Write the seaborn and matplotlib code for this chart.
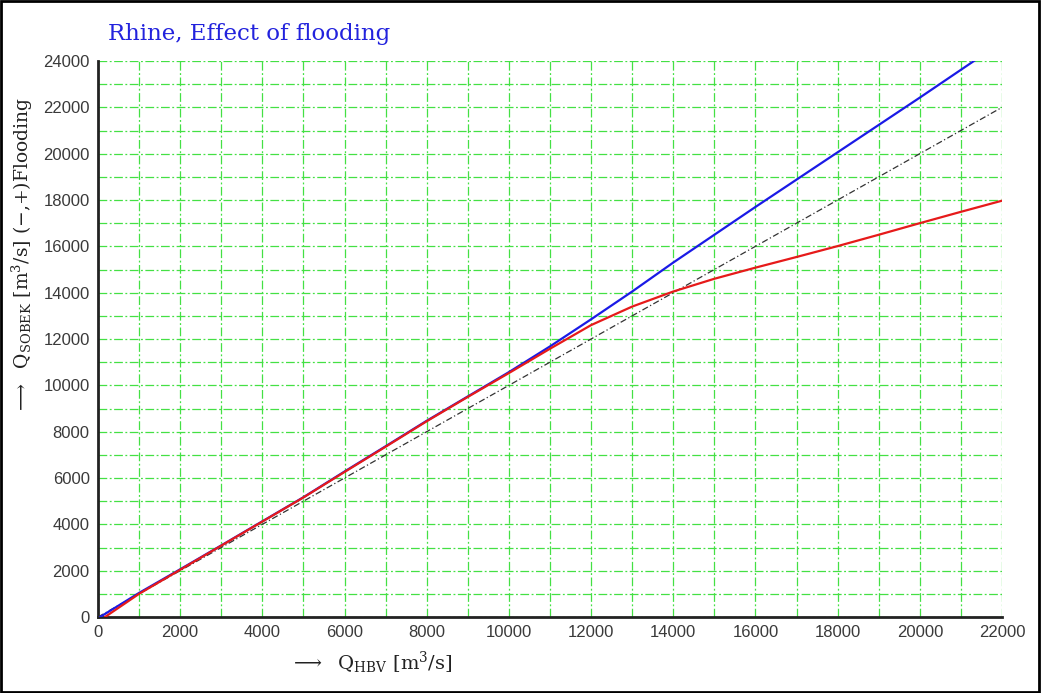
import matplotlib
matplotlib.use("Agg")
import matplotlib.pyplot as plt
import seaborn as sns
import pandas as pd
from matplotlib.patches import Rectangle

# Data
q_hbv_blue = [50, 1000, 2000, 3000, 4000, 5000, 6000, 7000, 8000, 9000, 10000,
              11000, 12000, 13000, 14000, 15000, 16000, 17000, 18000, 19000,
              20000, 21000, 22000]
q_sobek_blue = [0, 1040, 2060, 3090, 4130, 5170, 6280, 7370, 8470, 9520, 10570,
                11680, 12850, 14050, 15300, 16500, 17700, 18880, 20060, 21240,
                22420, 23620, 24820]

q_hbv_red = [170, 1000, 2000, 3000, 4000, 5000, 6000, 7000, 8000, 9000, 10000,
             11000, 12000, 13000, 14000, 15000, 16000, 17000, 18000, 19000,
             20000, 21000, 22000]
q_sobek_red = [0, 1000, 2040, 3080, 4120, 5160, 6260, 7350, 8450, 9500, 10530,
               11580, 12600, 13400, 14050, 14600, 15080, 15540, 16010, 16500,
               17000, 17490, 17970]

q_ref_x = [0, 22000]
q_ref_y = [0, 22000]

x_ticks = list(range(0, 22001, 2000))
y_ticks = list(range(0, 24001, 2000))

sns.set_style("white")
plt.rcParams['font.family'] = ['Liberation Sans', 'DejaVu Sans']
plt.rcParams['mathtext.fontset'] = 'dejavuserif'

fig = plt.figure(figsize=(10.41, 6.93), dpi=100)
ax = fig.add_axes([98/1041, 1-617/693, (1002-98)/1041, (617-61)/693])

df_blue = pd.DataFrame({"x": q_hbv_blue, "y": q_sobek_blue})
df_red = pd.DataFrame({"x": q_hbv_red, "y": q_sobek_red})
df_ref = pd.DataFrame({"x": q_ref_x, "y": q_ref_y})

sns.lineplot(data=df_ref, x="x", y="y", ax=ax, color="#333333", lw=0.9,
             linestyle=(0, (5, 2, 1, 2)), sort=False, zorder=3)
sns.lineplot(data=df_blue, x="x", y="y", ax=ax, color="#1a1ae6", lw=1.6,
             sort=False, zorder=4)
sns.lineplot(data=df_red, x="x", y="y", ax=ax, color="#e61a1a", lw=1.6,
             sort=False, zorder=5)

ax.set_xlim(0, 22000)
ax.set_ylim(0, 24000)
ax.set_xticks(x_ticks)
ax.set_yticks(y_ticks)
ax.set_xticks(range(1000, 22000, 2000), minor=True)
ax.set_yticks(range(1000, 24000, 2000), minor=True)
ax.grid(True, which="both", color="#44e044", lw=0.9, linestyle=(0, (7, 2, 1.5, 2)))
ax.set_axisbelow(True)
ax.tick_params(axis="both", which="major", length=3, width=1, color="#44e044",
               labelsize=12, labelcolor="#3a3a3a", pad=3)
ax.tick_params(axis="both", which="minor", length=0)
ax.set_xlabel("")
ax.set_ylabel("")

for s in ["top", "right"]:
    ax.spines[s].set_visible(False)
for s in ["left", "bottom"]:
    ax.spines[s].set_color("#222222")
    ax.spines[s].set_linewidth(2.0)

fig.text(108/1041, 1-34/693, "Rhine, Effect of flooding", color="#2222dd",
         fontsize=16.5, family="DejaVu Serif", va="center", ha="left")

fig.text(290/1041, 1-663/693,
         r"$\longrightarrow$  Q$_{\mathrm{HBV}}$ [m$^3$/s]",
         fontsize=14, family="DejaVu Serif", va="center", ha="left", color="#222222")
fig.text(22/1041, 1-255/693,
         r"$\longrightarrow$  Q$_{\mathrm{SOBEK}}$ [m$^3$/s] (−,+)Flooding",
         fontsize=13.5, family="DejaVu Serif", va="center", ha="center",
         rotation=90, color="#222222")

fig.patches.append(Rectangle((0.001, 0.001), 0.997, 0.997, transform=fig.transFigure,
                             fill=False, edgecolor="black", lw=2.0))

fig.savefig("out.png", dpi=100)
